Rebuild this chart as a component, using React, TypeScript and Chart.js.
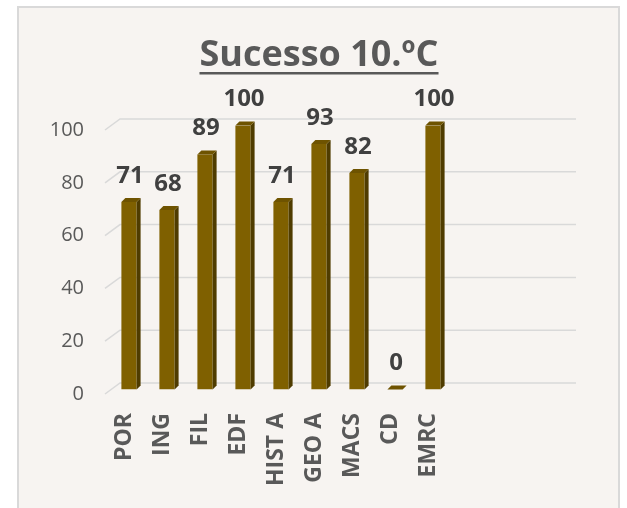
import React, { useEffect, useRef } from "react";
import { Chart, registerables } from "chart.js";

Chart.register(...registerables);

const titleText = "Sucesso 10.ºC";
const categories = ["POR", "ING", "FIL", "EDF", "HIST A", "GEO A", "MACS", "CD", "EMRC", "", "", ""];
const values: (number | null)[] = [71, 68, 89, 100, 71, 93, 82, 0, 100, null, null, null];
const yMin = 0;
const yMax = 100;
const yStep = 20;

const FONT = "'Open Sans', 'Noto Sans', sans-serif";
const BG = "#f7f4f1";
const FRAME = "#d9d9d9";
const GRID = "#d9d9d9";
const FRONT = "#7f6000";
const SIDE = "#4f3c00";
const TOP = "#6e5300";
const TEXT = "#595959";
const LABEL = "#404040";

// depth offsets
const BACK_DX = 15;
const BACK_DY = -11;
const BAR_DX = 5;
const BAR_DY = -4.5;
const FACE_D = 4;

const plugin3d = {
  id: "plugin3d",
  beforeDraw(chart: any) {
    const { ctx, width, height, chartArea } = chart;
    ctx.save();
    ctx.fillStyle = "#ffffff";
    ctx.fillRect(0, 0, width, height);
    ctx.fillStyle = BG;
    ctx.fillRect(18, 7, 601, height);
    ctx.strokeStyle = FRAME;
    ctx.lineWidth = 2;
    ctx.strokeRect(18, 7, 601, height + 10);

    // title
    ctx.fillStyle = TEXT;
    ctx.font = `bold 36px ${FONT}`;
    ctx.textAlign = "center";
    ctx.textBaseline = "alphabetic";
    const cx = 319;
    ctx.fillText(titleText, cx, 66);
    const tw = ctx.measureText(titleText).width;
    ctx.fillRect(cx - tw / 2, 72, tw, 2.5);

    // gridlines on back wall
    const ys = chart.scales.y;
    ctx.strokeStyle = GRID;
    ctx.lineWidth = 1.5;
    ys.ticks.forEach((t: any) => {
      const y = ys.getPixelForValue(t.value);
      ctx.beginPath();
      ctx.moveTo(chartArea.left, y);
      ctx.lineTo(chartArea.left + BACK_DX, y + BACK_DY);
      ctx.lineTo(chartArea.right + BACK_DX, y + BACK_DY);
      ctx.stroke();
    });
    ctx.restore();
  },
  beforeDatasetsDraw(chart: any) {
    chart.ctx.save();
    chart.ctx.translate(BAR_DX, BAR_DY);
  },
  afterDatasetsDraw(chart: any) {
    const { ctx } = chart;
    const meta = chart.getDatasetMeta(0);
    meta.data.forEach((bar: any, i: number) => {
      if (values[i] == null) return;
      const { x, y, base, width } = bar.getProps(["x", "y", "base", "width"], true);
      const l = x - width / 2;
      const r = x + width / 2;
      // side
      ctx.fillStyle = SIDE;
      ctx.beginPath();
      ctx.moveTo(r, y);
      ctx.lineTo(r + FACE_D, y - FACE_D);
      ctx.lineTo(r + FACE_D, base - FACE_D);
      ctx.lineTo(r, base);
      ctx.closePath();
      ctx.fill();
      // top
      ctx.fillStyle = TOP;
      ctx.beginPath();
      ctx.moveTo(l, y);
      ctx.lineTo(l + FACE_D, y - FACE_D);
      ctx.lineTo(r + FACE_D, y - FACE_D);
      ctx.lineTo(r, y);
      ctx.closePath();
      ctx.fill();
      // value label
      ctx.fillStyle = LABEL;
      ctx.font = `bold 24px ${FONT}`;
      ctx.textAlign = "center";
      ctx.textBaseline = "middle";
      ctx.fillText(String(values[i]), x + 1, y - 26);
    });
    ctx.restore();
  },
};

export default function App() {
  const ref = useRef<HTMLCanvasElement>(null);
  useEffect(() => {
    if (!ref.current) return;
    const chart = new Chart(ref.current, {
      type: "bar",
      data: {
        labels: categories,
        datasets: [
          {
            data: values as any,
            backgroundColor: FRONT,
            borderWidth: 0,
            barPercentage: 0.4,
            categoryPercentage: 1,
          },
        ],
      },
      options: {
        responsive: false,
        animation: false,
        devicePixelRatio: 1,
        layout: { padding: { top: 130, left: 0, right: 66, bottom: 0 } },
        plugins: {
          legend: { display: false },
          title: { display: false },
          tooltip: { enabled: false },
        },
        scales: {
          x: {
            grid: { display: false, drawTicks: false },
            border: { display: false },
            ticks: {
              autoSkip: false,
              minRotation: 90,
              maxRotation: 90,
              padding: 19,
              color: TEXT,
              font: { family: FONT, size: 23, weight: "bold" },
            },
            afterFit: (s: any) => {
              s.height = 114;
            },
          },
          y: {
            min: yMin,
            max: yMax,
            grid: { display: false, drawTicks: false },
            border: { display: false },
            ticks: {
              stepSize: yStep,
              padding: 21,
              color: TEXT,
              font: { family: FONT, size: 20 },
            },
            afterFit: (s: any) => {
              s.width = 105;
            },
          },
        },
      },
      plugins: [plugin3d],
    });
    return () => chart.destroy();
  }, []);
  return (
    <div style={{ position: "absolute", left: 0, top: 0, width: 627, height: 508 }}>
      <canvas ref={ref} width={627} height={508} style={{ display: "block" }} />
    </div>
  );
}
